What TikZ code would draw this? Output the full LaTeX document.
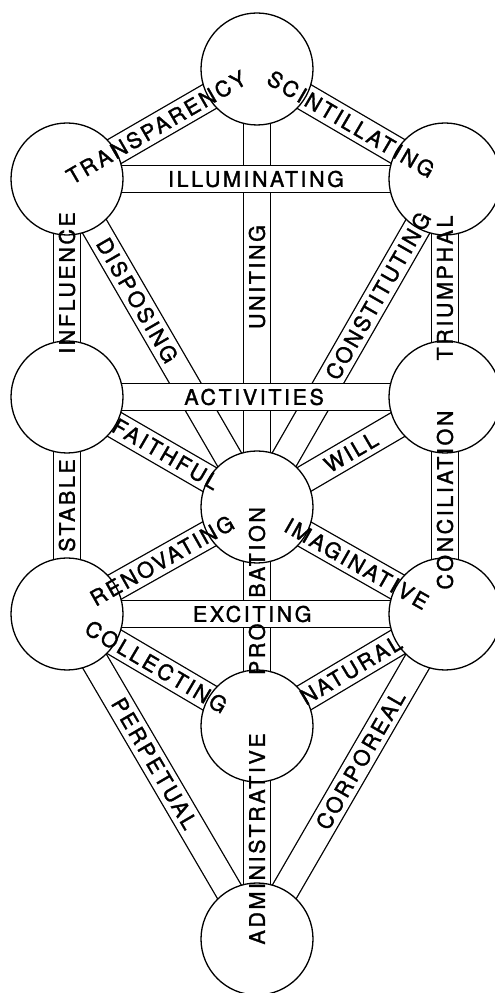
\documentclass[tikz,border=0pt]{standalone}
\usepackage{fontspec}
\setmainfont{TeX Gyre Heros}
\newfontfamily\pathfont[LetterSpace=12, FakeBold=1.5]{TeX Gyre Heros}
\usetikzlibrary{
    shapes,
    backgrounds,
}
\tikzset{
    double distance=26pt,
    sephira/.style={circle, draw, fill=white, minimum size=112pt, inner sep=0pt, line width=1.3pt},
    channel/.style={double, line width=1.3pt},
    word/.style={font=\pathfont\fontsize{21.5}{25}\selectfont, inner sep=0pt},
}

\begin{document}
\begin{tikzpicture}[x=1pt, y=1pt]
    \useasboundingbox (0,0) rectangle (495,993);

    \node[sephira] (kether) at (257,924) {};
    \node[sephira] (binah) at (67,814) {};
    \node[sephira] (chokmah) at (445,814) {};
    \node[sephira] (geburah) at (67,596) {};
    \node[sephira] (chesed) at (445,596) {};
    \node[sephira] (tiphareth) at (257,486) {};
    \node[sephira] (hod) at (67,379) {};
    \node[sephira] (netzach) at (445,379) {};
    \node[sephira] (yesod) at (257,267) {};
    \node[sephira] (malkuth) at (257,54) {};

    % ===== DRAW ALL PATHS =====
    \begin{pgfonlayer}{background}
        \draw[channel] (binah.center) -- (kether.center);
        \draw[channel] (kether.center) -- (chokmah.center);
        \draw[channel] (kether.center) -- (tiphareth.center);
        \draw[channel] (binah.center) -- (geburah.center);
        \draw[channel] (binah.center) -- (tiphareth.center);
        \draw[channel] (chokmah.center) -- (tiphareth.center);
        \draw[channel] (chokmah.center) -- (chesed.center);
        \draw[channel] (geburah.center) -- (tiphareth.center);
        \draw[channel] (chesed.center) -- (tiphareth.center);
        \draw[channel] (geburah.center) -- (hod.center);
        \draw[channel] (chesed.center) -- (netzach.center);
        \draw[channel] (tiphareth.center) -- (hod.center);
        \draw[channel] (tiphareth.center) -- (netzach.center);
        \draw[channel] (tiphareth.center) -- (yesod.center);
        \draw[channel] (hod.center) -- (yesod.center);
        \draw[channel] (netzach.center) -- (yesod.center);
        \draw[channel] (hod.center) -- (malkuth.center);
        \draw[channel] (netzach.center) -- (malkuth.center);
        \draw[channel] (yesod.center) -- (malkuth.center);

        \draw[channel] (binah.center) -- (chokmah.center);
        \draw[channel] (geburah.center) -- (chesed.center);
        \draw[channel] (hod.center) -- (netzach.center);
    \end{pgfonlayer}

    % ===== PATH NAMES =====
    \path (binah.center) -- node[word, sloped, pos=0.47] {TRANSPARENCY} (kether.center);
    \path (kether.center) -- node[word, sloped, pos=0.5] {SCINTILLATING} (chokmah.center);
    \path (tiphareth.center) -- node[word, rotate=90, pos=0.525] {UNITING} (kether.center);
    \path (binah.center) -- node[word, pos=0.5] {ILLUMINATING} (chokmah.center);
    \path (geburah.center) -- node[word, rotate=90, pos=0.523] {INFLUENCE} (binah.center);
    \path (binah.center) -- node[word, sloped, pos=0.37] {DISPOSING} (tiphareth.center);
    \path (tiphareth.center) -- node[word, sloped, pos=0.644] {CONSTITUTING} (chokmah.center);
    \path (chesed.center) -- node[word, rotate=90, pos=0.5] {TRIUMPHAL} (chokmah.center);
    \path (geburah.center) -- node[word, pos=0.495] {ACTIVITIES} (chesed.center);
    \path (geburah.center) -- node[word, sloped, pos=0.52] {FAITHFUL} (tiphareth.center);
    \path (tiphareth.center) -- node[word, sloped, pos=0.5] {WILL} (chesed.center);
    \path (hod.center) -- node[word, rotate=90, pos=0.5] {STABLE} (geburah.center);
    \path (netzach.center) -- node[word, rotate=90, pos=0.525] {CONCILIATION} (chesed.center);
    \path (hod.center) -- node[word, sloped, pos=0.5] {RENOVATING} (tiphareth.center);
    \path (tiphareth.center) -- node[word, sloped, pos=0.53] {IMAGINATIVE} (netzach.center);
    \path (yesod.center) -- node[word, rotate=90, pos=0.616] {PRO\hspace{26pt}BATION} (tiphareth.center);
    \path (hod.center) -- node[word, pos=0.49] {EXCITING} (netzach.center);
    \path (hod.center) -- node[word, sloped, pos=0.47] {COLLECTING} (yesod.center);
    \path (yesod.center) -- node[word, sloped, pos=0.5] {NATURAL} (netzach.center);
    \path (hod.center) -- node[word, sloped, pos=0.46] {PERPETUAL} (malkuth.center);
    \path (malkuth.center) -- node[word, sloped, pos=0.55] {CORPOREAL} (netzach.center);
    \path (malkuth.center) -- node[word, rotate=90, pos=0.47] {ADMINISTRATIVE} (yesod.center);

\end{tikzpicture}
\end{document}
